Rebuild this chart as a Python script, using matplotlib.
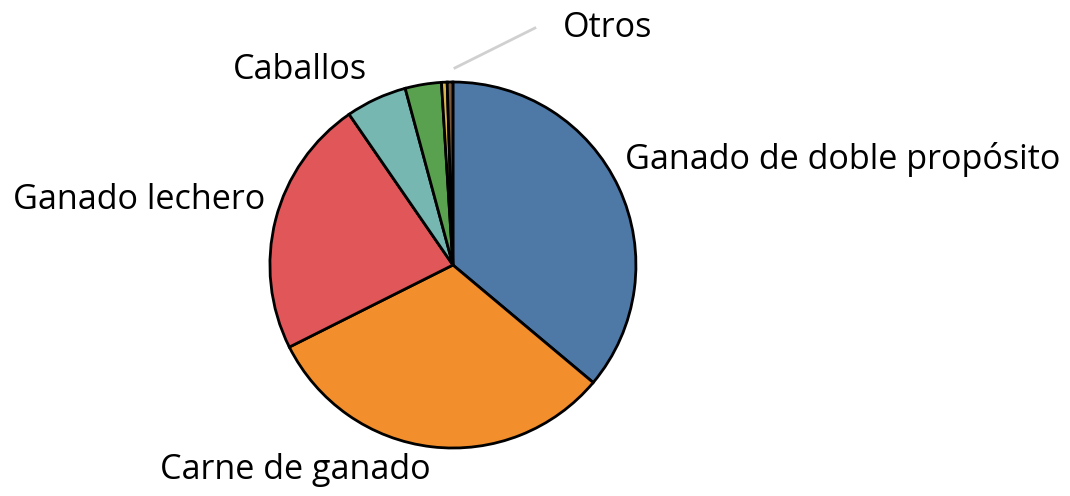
import matplotlib
matplotlib.use("Agg")
import matplotlib.pyplot as plt

# livestock categories, clockwise from 12 o'clock
categorias = ["Ganado de doble propósito", "Carne de ganado", "Ganado lechero",
              "Caballos", "Ovejas", "Otros 1", "Otros 2"]
porcentajes = [36.1, 31.5, 22.8, 5.4, 3.2, 0.5, 0.5]
colores = ["#4e79a7", "#f28e2b", "#e15759", "#76b7b2", "#59a14f", "#d9b44a", "#7a5a3a"]

plt.rcParams['font.family'] = ['Open Sans', 'DejaVu Sans']

fig = plt.figure(figsize=(10.7, 4.96), dpi=100)
ax = fig.add_axes([0, 0, 1, 1])

ax.pie(porcentajes, colors=colores, startangle=90, counterclock=False,
       radius=1.0, center=(0, 0),
       wedgeprops=dict(edgecolor="black", linewidth=2))

ax.set_xlim(-2.475, 3.372)
ax.set_ylim(-1.262, 1.448)
ax.set_aspect("equal")
ax.axis("off")

fs = 24.6
ax.text(0.94, 0.574, "Ganado de doble propósito", fontsize=fs, ha="left", va="center")
ax.text(-1.60, -1.12, "Carne de ganado", fontsize=fs, ha="left", va="center")
ax.text(-1.027, 0.355, "Ganado lechero", fontsize=fs, ha="right", va="center")
ax.text(-0.836, 1.066, "Caballos", fontsize=fs, ha="center", va="center")
ax.text(0.60, 1.295, "Otros", fontsize=fs, ha="left", va="center")
ax.plot([0.011, 0.448], [1.077, 1.295], color="#d0d0d0", linewidth=2)

fig.savefig("out.png", dpi=100)
